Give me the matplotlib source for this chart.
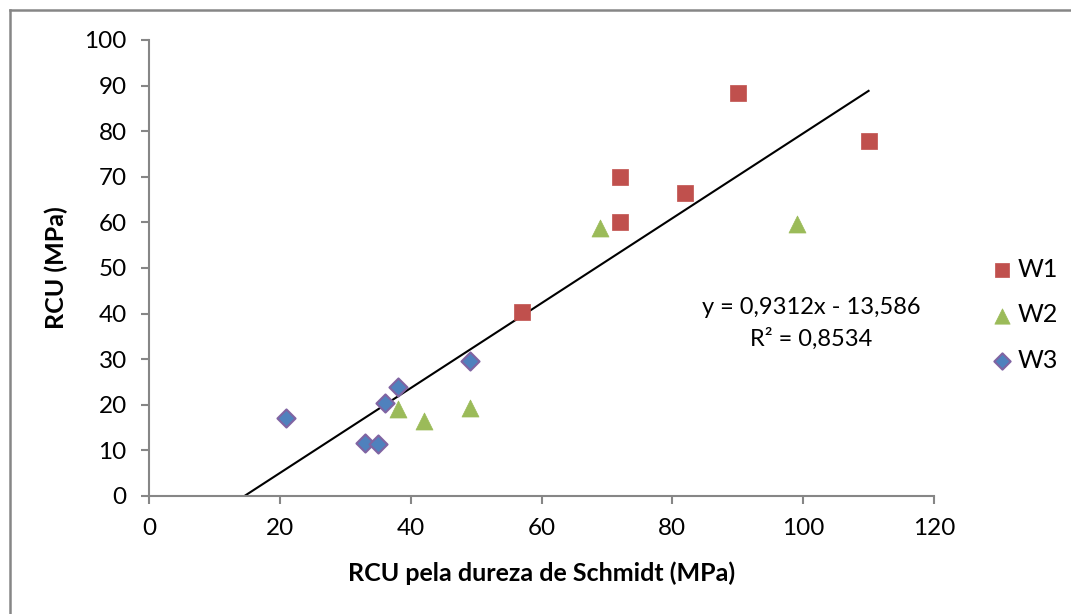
import matplotlib.pyplot as plt
from matplotlib.lines import Line2D

# data
w1_x = [57, 72, 72, 82, 90, 110]
w1_y = [40.3, 70.0, 60.1, 66.4, 88.3, 77.8]
w2_x = [69, 99, 38, 42, 49]
w2_y = [58.8, 59.7, 19.0, 16.4, 19.4]
w3_x = [21, 33, 35, 36, 38, 49]
w3_y = [17.1, 11.7, 11.4, 20.4, 23.9, 29.6]

slope = 0.9312
intercept = -13.586
r2 = 0.8534
x_ticks = [0, 20, 40, 60, 80, 100, 120]
y_ticks = [0, 10, 20, 30, 40, 50, 60, 70, 80, 90, 100]

plt.rcParams['font.family'] = ['Lato', 'DejaVu Sans']
W, H = 1071, 614
fig = plt.figure(figsize=(W / 100, H / 100), dpi=100)
ax = fig.add_axes([149 / W, (H - 496) / H, 785 / W, 456 / H])

# outer chart frame (only top and left visible)
fig.add_artist(Line2D([10 / W, 10 / W], [0, 1 - 10 / H], color='#868686', lw=1.8, transform=fig.transFigure))
fig.add_artist(Line2D([10 / W, 1], [1 - 10 / H, 1 - 10 / H], color='#868686', lw=1.8, transform=fig.transFigure))

ax.scatter(w1_x, w1_y, marker='s', s=130, color='#C0504D', edgecolors='#C0504D', linewidths=0.5, label='W1', zorder=3)
ax.scatter(w2_x, w2_y, marker='^', s=150, color='#9BBB59', edgecolors='#9BBB59', linewidths=0.5, label='W2', zorder=3)
ax.scatter(w3_x, w3_y, marker='D', s=85, color='#4F81BD', edgecolors='#8064A2', linewidths=1.5, label='W3', zorder=3)

# linear trendline
x0 = -intercept / slope
x1 = max(w1_x + w2_x + w3_x)
ax.plot([x0, x1], [slope * x0 + intercept, slope * x1 + intercept], color='black', lw=1.5, zorder=2)

eq = f'y = {slope:.4f}x - {abs(intercept):.3f}'.replace('.', ',')
rr = f'R² = {r2:.4f}'.replace('.', ',')
fig.text(811 / W, 1 - 307 / H, eq, fontsize=17, ha='center', va='center')
fig.text(811 / W, 1 - 339 / H, rr, fontsize=17, ha='center', va='center')

ax.set_xlim(0, 120)
ax.set_ylim(0, 100)
ax.set_xticks(x_ticks)
ax.set_yticks(y_ticks)
for s in ['top', 'right']:
    ax.spines[s].set_visible(False)
for s in ['left', 'bottom']:
    ax.spines[s].set_color('#868686')
    ax.spines[s].set_linewidth(1.5)
ax.tick_params(colors='#868686', labelcolor='black', labelsize=17.5, length=6, width=1.5, pad=10)

ax.set_xlabel('RCU pela dureza de Schmidt (MPa)', fontsize=18, fontweight='bold', labelpad=16)
ax.set_ylabel('RCU (MPa)', fontsize=18, fontweight='bold', labelpad=12)

ax.legend(loc='center left', bbox_to_anchor=(979 / W, 1 - 315 / H), bbox_transform=fig.transFigure,
          frameon=False, fontsize=18, handletextpad=0.15, labelspacing=0.9, markerscale=0.9,
          handlelength=1.0, borderaxespad=0)

fig.savefig('out.png', dpi=100, facecolor='white')
